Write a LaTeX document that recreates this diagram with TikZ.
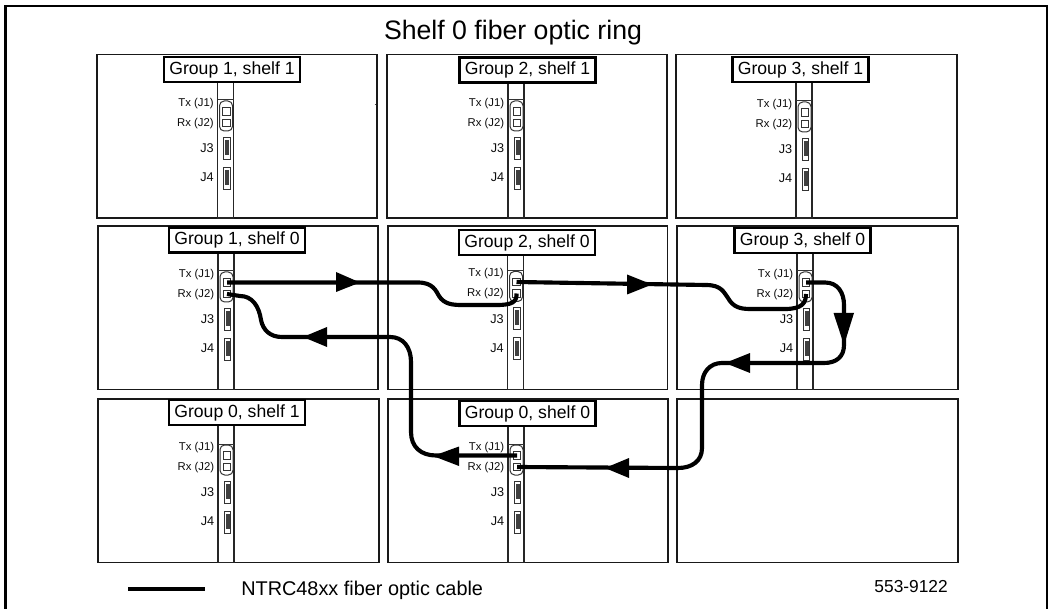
\documentclass[tikz,border=0pt]{standalone}
\usepackage{fontspec}
\setmainfont{Liberation Sans}
\tikzset{
  panel/.style={draw=black!90,line width=1.1pt,fill=white},
  strip/.style={draw=black!85,line width=0.95pt,fill=white},
  grouplabel/.style={draw=black,line width=1.7pt,fill=white,inner sep=0pt,font=\fontsize{13.2}{13.2}\selectfont},
  portlabel/.style={anchor=east,inner sep=0pt,text=black!95,font=\fontsize{8.5}{8.5}\selectfont},
  jacklabel/.style={anchor=east,inner sep=0pt,text=black!95,font=\fontsize{9.5}{9.5}\selectfont},
  port/.style={draw=black!80,line width=0.75pt,fill=white,minimum width=5.6pt,minimum height=5.9pt,inner sep=0pt},
  housing/.style={draw=black!80,line width=0.75pt,rounded corners=3.5pt},
  jackbody/.style={draw=black!80,line width=0.65pt,fill=white},
  jackcore/.style={fill=black!75},
  cable/.style={line width=3.1pt,black,line join=round},
  flowtip/.style={fill=black},
}
% #1 name, #2 strip left, #3 strip top, #4 strip bottom, #5 connector top, #6 label centre x, #7 label centre y, #8 unused, #9 text
\newcommand{\shelfcard}[9]{
  \draw[strip] (#2,#3) rectangle (#2+16,#4);
  \draw[black!80,line width=0.75pt] (#2,#5-1) -- (#2+16,#5-1);
  \draw[housing] (#2+2,#5) rectangle (#2+15,#5+30);
  \node[port] (tx#1) at (#2+9,#5+10.5) {};
  \node[port] (rx#1) at (#2+9,#5+22) {};
  \draw[jackbody] (#2+6,#5+36) rectangle (#2+12.5,#5+58);
  \fill[jackcore] (#2+7.5,#5+39) rectangle (#2+11.5,#5+54);
  \draw[jackbody] (#2+6,#5+66) rectangle (#2+12.5,#5+88);
  \fill[jackcore] (#2+7.5,#5+69) rectangle (#2+11.5,#5+84);
  \node[portlabel] (txl#1) at (#2-3.5,#5+2.5) {Tx (J1)};
  \node[portlabel] (rxl#1) at (#2-3.5,#5+22.5) {Rx (J2)};
  \node[jacklabel] (jt#1) at (#2-3.5,#5+47.5) {J3};
  \node[jacklabel] (jf#1) at (#2-3.5,#5+76.5) {J4};
  \node[grouplabel,minimum width=136*0.75pt,minimum height=25*0.75pt] (lab#1) at (#6,#7) {#9};
}
\begin{document}
\begin{tikzpicture}[x=0.75pt,y=-0.75pt]
\useasboundingbox (0,0) rectangle (1052,609);
\fill[white] (0,0) rectangle (1052,609);
% outer frame, open at the bottom
\draw[black,line width=2pt] (5.5,609) -- (5.5,6) -- (1047,6) -- (1047,609);
\node[inner sep=0pt,font=\fontsize{20}{20}\selectfont] (title) at (513,33) {Shelf 0 fiber optic ring};
% panels
\draw[panel] (97,54.5) rectangle (377,218);
\draw[panel] (387,54.5) rectangle (667,218);
\draw[panel] (676,54.5) rectangle (957,218);
\draw[panel] (98,226) rectangle (378,389.5);
\draw[panel] (388,226) rectangle (667.5,389.5);
\draw[panel] (677,226) rectangle (958,389.5);
\draw[panel] (98,399) rectangle (379,562.5);
\draw[panel] (388,399) rectangle (668,562.5);
\draw[panel] (677,399) rectangle (958,562.5);
\draw[black!70,line width=0.6pt] (374.5,104) -- (376,104);
% cards
\shelfcard{gAsB}{217.5}{82}{218}{101}{232}{69.5}{}{Group 1, shelf 1}
\shelfcard{gBsB}{508}{82}{218}{101}{527.5}{70}{}{Group 2, shelf 1}
\shelfcard{gCsB}{796}{82}{218}{102}{800.5}{69.5}{}{Group 3, shelf 1}
\shelfcard{gAsA}{218}{253}{389.5}{272}{237}{240}{}{Group 1, shelf 0}
\shelfcard{gBsA}{507.5}{255}{389.5}{271.5}{527}{242.5}{}{Group 2, shelf 0}
\shelfcard{gCsA}{797}{253}{389.5}{272}{802.5}{240.5}{}{Group 3, shelf 0}
\shelfcard{gZsB}{218}{425}{562.5}{445}{237}{412.5}{}{Group 0, shelf 1}
\shelfcard{gZsA}{508}{426}{562.5}{445}{527.5}{413.5}{}{Group 0, shelf 0}
% cables
\draw[cable] (txgAsA.center) -- (418,282.5) .. controls (433,282.5) and (436,291) .. (439,296)
  .. controls (444,304) and (452,305) .. (462,305) -- (497,305)
  .. controls (512,305) and (517,302) .. (rxgBsA.center);
\draw[cable] (txgBsA.center) -- (706,285) .. controls (722,285) and (724,293) .. (728,298)
  .. controls (733,307) and (740,309) .. (750,309) -- (785,309)
  .. controls (802,309) and (806,303) .. (rxgCsA.center);
\draw[cable] (txgCsA.center) -- (825,282.5) .. controls (838,282.5) and (844,293) .. (844,305) -- (844,345)
  .. controls (844,357) and (836,363) .. (824,363) -- (722,363)
  .. controls (710,363) and (702,372) .. (702,385) -- (702,448)
  .. controls (702,461) and (692,468) .. (678,468) -- (rxgZsA.center);
\draw[cable] (txgZsA.center) -- (436,455.5) .. controls (421,455.5) and (411,447) .. (411,432) -- (411,362)
  .. controls (411,347) and (403,337) .. (390,337) -- (282,337)
  .. controls (270,337) and (263,330) .. (261,320)
  .. controls (259,306) and (252,296) .. (240,296) -- (rxgAsA.center);
% arrowheads
\fill[flowtip] (360,282.5) -- (336,272) -- (336,292) -- cycle;
\fill[flowtip] (652,284.5) -- (627,274.5) -- (627,294.5) -- cycle;
\fill[flowtip] (844,345) -- (833.5,313) -- (854,313) -- cycle;
\fill[flowtip] (725,363) -- (750,353) -- (750,373) -- cycle;
\fill[flowtip] (605,468) -- (629,458) -- (629,478) -- cycle;
\fill[flowtip] (433,456) -- (459,446.5) -- (459,466) -- cycle;
\fill[flowtip] (303,337) -- (327,327) -- (327,347) -- cycle;
% legend
\coordinate (legA) at (128,589);
\coordinate (legB) at (205,589);
\draw[black,line width=3.4pt] (legA) -- (legB);
\node[inner sep=0pt,anchor=west,font=\fontsize{14.9}{14.9}\selectfont] (legtext) at (241,590) {NTRC48xx fiber optic cable};
\node[inner sep=0pt,anchor=east,font=\fontsize{13}{13}\selectfont] (docnum) at (948,587) {553-9122};
\end{tikzpicture}
\end{document}
